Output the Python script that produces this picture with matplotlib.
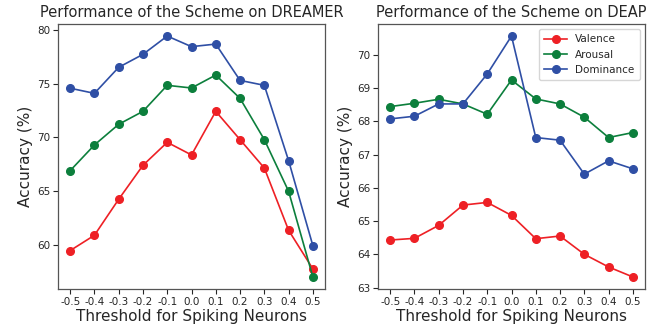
import numpy as np
import matplotlib
matplotlib.use("Agg")
import matplotlib.pyplot as plt

thresholds = [-0.5, -0.4, -0.3, -0.2, -0.1, 0.0, 0.1, 0.2, 0.3, 0.4, 0.5]
tick_labels = ["-0.5", "-0.4", "-0.3", "-0.2", "-0.1", "0.0", "0.1", "0.2", "0.3", "0.4", "0.5"]

# DREAMER
dreamer_valence = [59.44, 60.87, 64.23, 67.40, 69.55, 68.37, 72.44, 69.80, 67.15, 61.34, 57.73]
dreamer_arousal = [66.90, 69.30, 71.23, 72.44, 74.87, 74.62, 75.83, 73.65, 69.80, 64.98, 56.98]
dreamer_dominance = [74.60, 74.12, 76.55, 77.76, 79.47, 78.48, 78.72, 75.33, 74.87, 67.84, 59.90]

# DEAP
deap_valence = [64.43, 64.48, 64.87, 65.48, 65.56, 65.17, 64.47, 64.55, 64.00, 63.62, 63.32]
deap_arousal = [68.44, 68.54, 68.66, 68.52, 68.21, 69.24, 68.67, 68.52, 68.12, 67.51, 67.66]
deap_dominance = [68.07, 68.15, 68.52, 68.52, 69.42, 70.56, 67.51, 67.43, 66.41, 66.81, 66.57]

colors = {"Valence": "#ee2025", "Arousal": "#0c7f3c", "Dominance": "#2f4fa5"}
text_col = "#262626"

fig = plt.figure(figsize=(6.68, 3.28), dpi=100)
ax1 = fig.add_axes([58 / 668, 1 - 289 / 328, 267 / 668, 265 / 328])
ax2 = fig.add_axes([378 / 668, 1 - 289 / 328, 267 / 668, 265 / 328])

panels = [
    (ax1, "Performance of the Scheme on DREAMER", dreamer_valence, dreamer_arousal, dreamer_dominance),
    (ax2, "Performance of the Scheme on DEAP", deap_valence, deap_arousal, deap_dominance),
]

for ax, title, val, aro, dom in panels:
    for name, ys in [("Valence", val), ("Arousal", aro), ("Dominance", dom)]:
        ax.plot(thresholds, ys, "-o", color=colors[name], label=name,
                markersize=5.5, linewidth=1.2)
    ax.set_title(title, fontsize=10.5, color=text_col, pad=5)
    ax.set_xlabel("Threshold for Spiking Neurons", fontsize=11, color=text_col, labelpad=2)
    ax.set_ylabel("Accuracy (%)", fontsize=11, color=text_col, labelpad=3)
    ax.set_xticks(thresholds)
    ax.set_xticklabels(tick_labels)
    ax.tick_params(labelsize=7.5, colors=text_col, length=3.5, width=0.8, pad=2)
    for s in ax.spines.values():
        s.set_color("#555555")
        s.set_linewidth(0.9)

ax1.set_yticks([60, 65, 70, 75, 80])
ax2.set_yticks([63, 64, 65, 66, 67, 68, 69, 70])
ax2.legend(loc="upper right", fontsize=7.5, frameon=True, edgecolor="#cccccc",
           labelcolor=text_col, handlelength=2.2, borderpad=0.5, labelspacing=0.5)

fig.savefig("out.png", dpi=100)
